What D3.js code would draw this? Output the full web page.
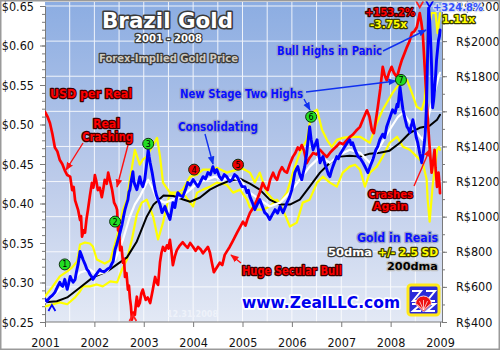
<!DOCTYPE html>
<html><head><meta charset="utf-8">
<script src="https://cdn.jsdelivr.net/npm/d3@7"></script>
<style>body{margin:0;background:#fff}svg{display:block}</style>
</head><body>
<svg id="c" width="500" height="350"></svg>
<script>
// ---------- data ----------
const years = [2001,2002,2003,2004,2005,2006,2007,2008,2009];
const usdTicks = [0.25,0.30,0.35,0.40,0.45,0.50,0.55,0.60,0.65];
const reaisTicks = [400,600,800,1000,1200,1400,1600,1800,2000,2200];

// USD per Real (left axis)
const usdPerReal = [[2001.00,0.516],[2001.05,0.510],[2001.10,0.502],[2001.15,0.488],[2001.20,0.471],[2001.25,0.466],[2001.30,0.455],[2001.35,0.450],[2001.40,0.442],[2001.45,0.436],[2001.51,0.434],[2001.55,0.417],[2001.58,0.421],[2001.61,0.404],[2001.67,0.392],[2001.71,0.379],[2001.73,0.384],[2001.75,0.358],[2001.78,0.366],[2001.81,0.363],[2001.84,0.380],[2001.87,0.392],[2001.91,0.410],[2001.95,0.426],[2001.98,0.420],[2002.01,0.436],[2002.04,0.428],[2002.07,0.417],[2002.11,0.420],[2002.15,0.408],[2002.18,0.418],[2002.21,0.430],[2002.25,0.425],[2002.28,0.439],[2002.32,0.428],[2002.36,0.417],[2002.40,0.401],[2002.44,0.396],[2002.46,0.392],[2002.48,0.366],[2002.50,0.372],[2002.52,0.341],[2002.55,0.345],[2002.58,0.325],[2002.60,0.330],[2002.62,0.307],[2002.65,0.312],[2002.68,0.291],[2002.70,0.296],[2002.72,0.280],[2002.74,0.270],[2002.76,0.253],[2002.79,0.262],[2002.82,0.259],[2002.84,0.272],[2002.86,0.282],[2002.89,0.270],[2002.92,0.274],[2002.95,0.286],[2002.98,0.291],[2003.01,0.284],[2003.04,0.278],[2003.08,0.281],[2003.13,0.274],[2003.18,0.290],[2003.23,0.307],[2003.26,0.300],[2003.29,0.297],[2003.33,0.326],[2003.36,0.338],[2003.39,0.345],[2003.43,0.340],[2003.47,0.347],[2003.50,0.343],[2003.53,0.354],[2003.56,0.340],[2003.59,0.322],[2003.63,0.333],[2003.67,0.341],[2003.72,0.346],[2003.79,0.351],[2003.84,0.347],[2003.89,0.344],[2003.94,0.350],[2004.00,0.345],[2004.05,0.340],[2004.10,0.345],[2004.15,0.342],[2004.20,0.337],[2004.25,0.341],[2004.30,0.345],[2004.34,0.338],[2004.38,0.325],[2004.42,0.313],[2004.47,0.318],[2004.54,0.325],[2004.59,0.322],[2004.64,0.335],[2004.69,0.340],[2004.74,0.345],[2004.80,0.352],[2004.89,0.363],[2004.95,0.370],[2005.01,0.377],[2005.06,0.372],[2005.10,0.380],[2005.15,0.388],[2005.22,0.395],[2005.29,0.404],[2005.35,0.414],[2005.41,0.426],[2005.46,0.420],[2005.51,0.417],[2005.56,0.430],[2005.62,0.439],[2005.66,0.433],[2005.70,0.430],[2005.75,0.440],[2005.80,0.446],[2005.85,0.441],[2005.90,0.439],[2005.96,0.450],[2006.02,0.459],[2006.07,0.464],[2006.12,0.471],[2006.16,0.468],[2006.20,0.474],[2006.25,0.466],[2006.30,0.451],[2006.36,0.458],[2006.43,0.464],[2006.50,0.462],[2006.57,0.468],[2006.64,0.463],[2006.71,0.459],[2006.77,0.464],[2006.83,0.468],[2006.90,0.472],[2006.97,0.477],[2007.04,0.475],[2007.11,0.480],[2007.17,0.484],[2007.23,0.487],[2007.30,0.492],[2007.38,0.497],[2007.45,0.508],[2007.52,0.518],[2007.57,0.510],[2007.62,0.493],[2007.66,0.489],[2007.70,0.505],[2007.74,0.522],[2007.79,0.545],[2007.84,0.573],[2007.88,0.562],[2007.92,0.556],[2007.97,0.566],[2008.02,0.573],[2008.07,0.565],[2008.13,0.560],[2008.18,0.572],[2008.23,0.582],[2008.28,0.590],[2008.33,0.598],[2008.38,0.605],[2008.43,0.616],[2008.48,0.618],[2008.53,0.623],[2008.56,0.632],[2008.59,0.641],[2008.62,0.630],[2008.65,0.616],[2008.67,0.595],[2008.69,0.573],[2008.72,0.540],[2008.75,0.509],[2008.78,0.480],[2008.81,0.455],[2008.83,0.439],[2008.86,0.452],[2008.89,0.468],[2008.91,0.445],[2008.94,0.421],[2008.97,0.439],[2008.99,0.425],[2009.00,0.413]];

// Gold price in Reais (right axis)
const goldReais = [[2001.00,529],[2001.04,518],[2001.07,530],[2001.10,540],[2001.15,552],[2001.20,569],[2001.25,598],[2001.30,626],[2001.33,610],[2001.36,603],[2001.40,643],[2001.45,586],[2001.48,620],[2001.51,660],[2001.54,640],[2001.57,626],[2001.61,643],[2001.64,690],[2001.67,728],[2001.71,802],[2001.74,780],[2001.77,756],[2001.81,730],[2001.85,699],[2001.88,690],[2001.91,671],[2001.94,660],[2001.97,643],[2002.01,660],[2002.06,680],[2002.11,699],[2002.14,690],[2002.17,688],[2002.21,688],[2002.26,700],[2002.32,711],[2002.35,730],[2002.38,745],[2002.42,813],[2002.45,840],[2002.48,870],[2002.52,910],[2002.56,955],[2002.59,1000],[2002.62,1040],[2002.65,1070],[2002.68,1097],[2002.70,1140],[2002.72,1154],[2002.75,1210],[2002.78,1256],[2002.80,1200],[2002.82,1182],[2002.86,1154],[2002.89,1190],[2002.92,1228],[2002.95,1190],[2002.98,1171],[2003.02,1211],[2003.05,1280],[2003.09,1381],[2003.11,1340],[2003.13,1307],[2003.17,1251],[2003.20,1200],[2003.23,1154],[2003.26,1120],[2003.29,1097],[2003.33,1069],[2003.37,1023],[2003.40,1040],[2003.43,1058],[2003.46,1030],[2003.49,1012],[2003.53,984],[2003.56,1030],[2003.59,1080],[2003.63,1052],[2003.66,1100],[2003.69,1137],[2003.74,1120],[2003.79,1114],[2003.84,1150],[2003.89,1194],[2003.94,1180],[2004.00,1211],[2004.05,1190],[2004.10,1171],[2004.15,1200],[2004.20,1228],[2004.25,1215],[2004.30,1251],[2004.35,1240],[2004.40,1285],[2004.44,1250],[2004.48,1268],[2004.53,1230],[2004.58,1211],[2004.63,1240],[2004.68,1228],[2004.74,1200],[2004.79,1211],[2004.84,1240],[2004.89,1228],[2004.94,1200],[2004.99,1171],[2005.05,1171],[2005.09,1137],[2005.12,1150],[2005.15,1114],[2005.20,1080],[2005.25,1040],[2005.30,1070],[2005.35,1097],[2005.40,1060],[2005.45,1023],[2005.50,1010],[2005.55,984],[2005.60,1010],[2005.66,1040],[2005.71,1020],[2005.76,1058],[2005.82,1023],[2005.86,1050],[2005.90,1080],[2005.95,1110],[2006.00,1154],[2006.03,1200],[2006.06,1251],[2006.09,1270],[2006.12,1285],[2006.16,1240],[2006.20,1211],[2006.23,1250],[2006.26,1285],[2006.30,1360],[2006.33,1440],[2006.36,1512],[2006.39,1440],[2006.43,1381],[2006.47,1410],[2006.51,1438],[2006.54,1370],[2006.57,1307],[2006.60,1330],[2006.63,1342],[2006.67,1300],[2006.71,1268],[2006.74,1240],[2006.77,1228],[2006.80,1260],[2006.83,1285],[2006.87,1315],[2006.91,1342],[2006.94,1330],[2006.97,1353],[2007.02,1375],[2007.07,1398],[2007.12,1420],[2007.17,1438],[2007.20,1410],[2007.23,1421],[2007.28,1380],[2007.34,1342],[2007.39,1330],[2007.44,1307],[2007.49,1280],[2007.54,1251],[2007.59,1290],[2007.64,1325],[2007.70,1380],[2007.74,1400],[2007.78,1438],[2007.84,1470],[2007.88,1450],[2007.92,1512],[2007.98,1560],[2008.04,1609],[2008.09,1590],[2008.13,1640],[2008.15,1626],[2008.19,1739],[2008.22,1670],[2008.25,1609],[2008.29,1560],[2008.33,1512],[2008.36,1500],[2008.39,1478],[2008.42,1520],[2008.45,1552],[2008.49,1500],[2008.52,1450],[2008.55,1421],[2008.59,1360],[2008.63,1307],[2008.66,1360],[2008.69,1438],[2008.71,1520],[2008.73,1665],[2008.75,1950],[2008.77,2188],[2008.79,2120],[2008.81,2006],[2008.83,1853],[2008.85,1620],[2008.87,1660],[2008.89,1722],[2008.91,1800],[2008.93,1893],[2008.95,1950],[2008.97,2006],[2008.99,2030],[2009.00,2063]];

// 50-day moving average
const dma50 = [[2001.00,512],[2001.15,545],[2001.30,586],[2001.51,626],[2001.71,682],[2001.91,699],[2002.05,671],[2002.26,688],[2002.42,756],[2002.58,870],[2002.72,1001],[2002.82,1070],[2002.92,1114],[2003.02,1170],[2003.09,1211],[2003.18,1160],[2003.27,1097],[2003.43,1080],[2003.59,1097],[2003.77,1114],[2003.94,1154],[2004.10,1194],[2004.28,1211],[2004.44,1228],[2004.60,1211],[2004.79,1222],[2004.95,1211],[2005.15,1137],[2005.35,1097],[2005.55,1058],[2005.76,1080],[2005.96,1137],[2006.16,1211],[2006.36,1285],[2006.57,1342],[2006.77,1307],[2006.97,1353],[2007.17,1381],[2007.38,1364],[2007.58,1307],[2007.78,1398],[2007.98,1495],[2008.15,1569],[2008.25,1592],[2008.39,1535],[2008.53,1478],[2008.65,1438],[2008.75,1552],[2008.85,1665],[2008.97,1796],[2009.00,1819]];

// 200-day moving average
const dma200 = [[2001.00,512],[2001.24,518],[2001.45,540],[2001.71,597],[2001.97,654],[2002.26,688],[2002.46,728],[2002.66,768],[2002.86,859],[2003.06,1000],[2003.20,1070],[2003.40,1120],[2003.60,1118],[2003.80,1098],[2003.94,1085],[2004.14,1109],[2004.34,1154],[2004.54,1182],[2004.74,1205],[2004.95,1216],[2005.15,1188],[2005.35,1154],[2005.55,1097],[2005.76,1069],[2005.96,1069],[2006.16,1097],[2006.36,1171],[2006.57,1251],[2006.77,1307],[2006.97,1342],[2007.17,1347],[2007.38,1342],[2007.58,1359],[2007.78,1364],[2007.98,1376],[2008.19,1421],[2008.39,1478],[2008.59,1506],[2008.79,1518],[2008.94,1552],[2009.00,1580]];

// +2.5 SD band
const bandUpper = [[2001.00,546],[2001.15,600],[2001.30,660],[2001.45,688],[2001.55,711],[2001.65,745],[2001.71,842],[2001.81,853],[2001.91,847],[2001.97,830],[2002.05,756],[2002.21,733],[2002.32,750],[2002.46,887],[2002.58,1040],[2002.66,1097],[2002.72,1211],[2002.82,1381],[2002.92,1296],[2002.98,1325],[2003.06,1342],[2003.19,1410],[2003.27,1449],[2003.33,1342],[2003.39,1194],[2003.53,1137],[2003.67,1137],[2003.79,1154],[2003.94,1228],[2004.08,1239],[2004.20,1268],[2004.34,1268],[2004.48,1279],[2004.68,1251],[2004.89,1268],[2005.01,1273],[2005.15,1251],[2005.25,1194],[2005.35,1251],[2005.49,1137],[2005.62,1097],[2005.76,1080],[2005.90,1137],[2006.02,1251],[2006.16,1364],[2006.30,1438],[2006.40,1592],[2006.51,1609],[2006.61,1495],[2006.71,1438],[2006.81,1398],[2006.91,1438],[2007.03,1449],[2007.17,1455],[2007.38,1455],[2007.58,1421],[2007.72,1535],[2007.84,1609],[2008.04,1705],[2008.19,1762],[2008.33,1779],[2008.43,1705],[2008.53,1626],[2008.63,1609],[2008.69,1665],[2008.75,2046],[2008.83,2160],[2008.91,2160],[2008.95,2046],[2009.00,2160]];

// -2.5 SD band
const bandLower = [[2001.00,489],[2001.30,512],[2001.45,501],[2001.61,540],[2001.71,575],[2001.77,603],[2001.91,603],[2002.05,614],[2002.17,603],[2002.32,631],[2002.46,626],[2002.56,699],[2002.66,756],[2002.76,870],[2002.86,1012],[2002.96,1080],[2003.06,1097],[2003.19,1001],[2003.29,870],[2003.39,966],[2003.53,1137],[2003.67,1114],[2003.79,1137],[2003.94,1080],[2004.00,1058],[2004.08,1137],[2004.20,1154],[2004.34,1171],[2004.48,1194],[2004.68,1182],[2004.81,1137],[2004.95,1154],[2005.09,1097],[2005.15,1052],[2005.29,1040],[2005.41,1040],[2005.55,1058],[2005.70,1097],[2005.82,1040],[2005.96,944],[2006.10,966],[2006.22,1080],[2006.36,1097],[2006.51,1194],[2006.63,1228],[2006.77,1194],[2006.91,1171],[2007.03,1251],[2007.17,1285],[2007.28,1296],[2007.38,1268],[2007.48,1171],[2007.58,1251],[2007.72,1285],[2007.84,1342],[2007.98,1421],[2008.13,1455],[2008.25,1398],[2008.39,1381],[2008.53,1342],[2008.65,1307],[2008.73,1211],[2008.75,1097],[2008.79,972],[2008.85,1171],[2008.94,1381],[2008.98,1398],[2009.00,1381]];

// numbered event markers
const markerTimes = [2001.40,2002.42,2003.09,2004.02,2004.91,2006.39,2008.21];
const markerVals  = [728,972,1415,1268,1296,1569,1779];
const markerLabels = ["1","2","3","4","5","6","7"];
const markerKinds  = ["g","g","g","r","r","g","g"];

// ---------- chart ----------
const svg = d3.select("#c");
const W = 500, H = 350;
const x = d3.scaleLinear().domain([2001,2009]).range([45,440]);
const yL = d3.scaleLinear().domain([0.25,0.65]).range([322,6]);
const yR = d3.scaleLinear().domain([400,2200]).range([322,6]);

const defs = svg.append("defs");
const grad = defs.append("linearGradient").attr("id","bg").attr("x1",0).attr("y1",0).attr("x2",0).attr("y2",1);
grad.append("stop").attr("offset","0%").attr("stop-color","#8cade2");
grad.append("stop").attr("offset","55%").attr("stop-color","#bccbea");
grad.append("stop").attr("offset","100%").attr("stop-color","#e3e9f5");
defs.append("clipPath").attr("id","clip").append("rect").attr("x",45).attr("y",2).attr("width",397).attr("height",320);

svg.append("rect").attr("x",0).attr("y",0).attr("width",W).attr("height",H).attr("fill","#fff");
svg.append("rect").attr("x",45).attr("y",2).attr("width",397).attr("height",320).attr("fill","url(#bg)");

// grid
const grid = svg.append("g").attr("stroke","#fff").attr("stroke-width",1).attr("opacity",0.85);
d3.range(2001.5,2009,0.5).forEach(t=>{
  grid.append("line").attr("x1",x(t)).attr("x2",x(t)).attr("y1",2).attr("y2",322);
});
reaisTicks.slice(1).forEach(v=>{
  grid.append("line").attr("x1",45).attr("x2",442).attr("y1",yR(v)).attr("y2",yR(v));
});

// axes
const fontAx = "'DejaVu Sans Condensed','DejaVu Sans',sans-serif";
function styleAxis(g){
  g.select(".domain").attr("stroke","#7a7a7a");
  g.selectAll(".tick line").attr("stroke","#7a7a7a");
  g.selectAll("text").attr("font-family",fontAx).attr("font-size","12.5px").attr("fill","#111").style("font-stretch","condensed");
}
const gL = svg.append("g").attr("transform","translate(45,0)")
  .call(d3.axisLeft(yL).tickValues(usdTicks).tickSize(5).tickPadding(6).tickFormat(d=>"$"+d.toFixed(2)));
styleAxis(gL);
svg.append("g").attr("transform","translate(45,0)")
  .call(d3.axisLeft(yL).tickValues(d3.range(0,41).map(i=>0.25+i*0.01)).tickSize(3).tickFormat(""))
  .call(g=>{g.select(".domain").remove(); g.selectAll("line").attr("stroke","#7a7a7a");});
const gR = svg.append("g").attr("transform","translate(442,0)")
  .call(d3.axisRight(yR).tickValues(reaisTicks).tickSize(5).tickPadding(9).tickFormat(d=>"R$"+d));
styleAxis(gR);
svg.append("g").attr("transform","translate(442,0)")
  .call(d3.axisRight(yR).tickValues(d3.range(0,19).map(i=>400+i*100)).tickSize(3).tickFormat(""))
  .call(g=>{g.select(".domain").remove(); g.selectAll("line").attr("stroke","#7a7a7a");});
const gB = svg.append("g").attr("transform","translate(0,322)")
  .call(d3.axisBottom(x).tickValues(years).tickSize(5).tickPadding(11).tickFormat(d3.format("d")));
styleAxis(gB);
gB.select(".domain").attr("d","M45,0H442");

// series
const plot = svg.append("g").attr("clip-path","url(#clip)");
const lineR = d3.line().x(d=>x(d[0])).y(d=>yR(d[1])).curve(d3.curveLinear);
const lineL = d3.line().x(d=>x(d[0])).y(d=>yL(d[1])).curve(d3.curveLinear);
function path(data, gen, color, w){
  plot.append("path").datum(data).attr("d",gen).attr("fill","none").attr("stroke",color)
    .attr("stroke-width",w).attr("stroke-linejoin","round").attr("stroke-linecap","round");
}
path(bandLower, lineR, "#ffff00", 2.2);
path(bandUpper, lineR, "#ffff00", 2.2);
path(dma200, lineR, "#000000", 2);
path(dma50, lineR, "#ffffff", 2.2);
path(usdPerReal, lineL, "#ff0000", 2.7);
path(goldReais, lineR, "#0000ff", 2.9);

// chevrons (extremes)
function chevron(t, yv, scale, color, up){
  const cx = x(t), cy = scale(yv), s = up ? -1 : 1;
  svg.append("path").attr("d",`M${cx-3.5},${cy-3*s}L${cx},${cy+3*s}L${cx+3.5},${cy-3*s}`)
    .attr("fill","none").attr("stroke",color).attr("stroke-width",1.8);
}
chevron(2008.59, 0.652, yL, "#ff2020", false);
chevron(2008.79, 2212, yR, "#0000ff", false);
chevron(2001.14, 480, yR, "#0000ff", true);
chevron(2002.78, 0.255, yL, "#ff2020", true);

// arrows
defs.append("marker").attr("id","ahR").attr("viewBox","0 0 10 10").attr("refX",9).attr("refY",5)
  .attr("markerWidth",6).attr("markerHeight",6).attr("orient","auto")
  .append("path").attr("d","M0,1L10,5L0,9z").attr("fill","#ff1010");
defs.append("marker").attr("id","ahB").attr("viewBox","0 0 10 10").attr("refX",9).attr("refY",5)
  .attr("markerWidth",6).attr("markerHeight",6).attr("orient","auto")
  .append("path").attr("d","M0,1L10,5L0,9z").attr("fill","#1030f0");
function arrow(x1,y1,x2,y2,kind){
  svg.append("line").attr("x1",x1).attr("y1",y1).attr("x2",x2).attr("y2",y2)
    .attr("stroke", kind==="r" ? "#ff1010" : "#1030f0").attr("stroke-width",1.4)
    .attr("marker-end", kind==="r" ? "url(#ahR)" : "url(#ahB)");
}
arrow(83,143,66,170,"r");
arrow(128,145,117,187,"r");
arrow(414,186,430,149,"r");
arrow(241,263,231,255,"r");
arrow(205,134,213,164,"b");
arrow(306,92,396,81,"b");
arrow(304,99,310,110,"b");
arrow(383,51,426,30,"b");

// markers
markerTimes.forEach((t,i)=>{
  const g = svg.append("g").attr("transform",`translate(${x(t)},${yR(markerVals[i])})`);
  g.append("circle").attr("r",5.5).attr("fill", markerKinds[i]==="g" ? "#22dd22" : "#ee0000")
    .attr("stroke","#103010").attr("stroke-width",1);
  g.append("text").attr("y",3).attr("text-anchor","middle").attr("font-family","'DejaVu Sans',sans-serif")
    .attr("font-size","8px").attr("fill","#000").text(markerLabels[i]);
});

// labels
function label(txt, cx, y, w, fs, fill, stroke, sw){
  const t = svg.append("text").attr("x",cx).attr("y",y).attr("text-anchor","middle")
    .attr("font-family","'DejaVu Sans',Verdana,sans-serif").attr("font-weight","bold")
    .attr("font-size",fs+"px").attr("fill",fill)
    .attr("textLength",w).attr("lengthAdjust","spacingAndGlyphs").text(txt);
  if (stroke) t.attr("stroke",stroke).attr("stroke-width",sw).attr("stroke-linejoin","round").attr("paint-order","stroke");
  return t;
}
label("Brazil Gold",167.5,28,131,21,"#ffffff","#3a3a3a",3.2);
label("2001 - 2008",168.5,41.5,67,10.5,"#ffffff","#3a3a3a",2.6);
label("Forex-Implied Gold Price",168.5,61.5,139,10.5,"#cfcac0","#3a3a3a",2.6);
label("USD per Real",91,97.5,82,12.5,"#ff0000","#3a0000",2.6);
label("Real",106.5,128,27,11.5,"#ff0000","#3a0000",2.6);
label("Crashing",107.5,140.5,51,11.5,"#ff0000","#3a0000",2.6);
label("New Stage Two Highs",241.5,97.5,123,11.5,"#0a10ff","#9aa4c4",2.6);
label("Consolidating",218,130.5,80,11.5,"#0a10ff","#9aa4c4",2.6);
label("Bull Highs in Panic",329.5,54.5,105,11.5,"#0a10ff","#9aa4c4",2.6);
label("+153.2%",390,16,50,10.5,"#ff0000","#3a0000",2.4);
label("-3.75x",388.5,28,37,10.5,"#ffff00","#3a3a00",2.4);
label("+324.8%",458,11,50,10.5,"#3050ff","#d8def0",2.4);
label("1.11x",458.5,23,33,10.5,"#ffff00","#3a3a00",2.4);
label("Crashes",390.5,197.5,45,10.5,"#ff0000","#3a0000",2.4);
label("Again",390.5,209.5,35,10.5,"#ff0000","#3a0000",2.4);
label("Huge Secular Bull",292,275,100,11.5,"#ff0000","#3a0000",2.6);
label("Gold in Reais",397.5,242,81,11.5,"#0a10ff","#9aa4c4",2.6);
label("50dma",350,256,44,11,"#ffffff","#3a3a3a",2.6);
label("+/- 2.5 SD",408,256,60,11,"#ffff00","#3a3a00",2.6);
label("200dma",412.5,269.5,51,11,"#000000","#c0c0c0",2.6);
label("www.ZealLLC.com",321,308,158,16,"#0000ee","#ffffff",3.4);
label("12.31.2008",192.5,317,51,9.5,"#eef2fa",null,0);

// logo
const lg = svg.append("g").attr("transform","translate(408,285)");
lg.append("rect").attr("x",0).attr("y",0).attr("width",31).attr("height",30).attr("rx",3)
  .attr("fill","#2a2ad8").attr("stroke","#ffe818").attr("stroke-width",3);
lg.append("path").attr("d","M4,6H13L5,16H13M18,6H27L19,16H27M4,19H13L5,26H13M18,19H27L19,26H27")
  .attr("fill","none").attr("stroke","#ffffff").attr("stroke-width",2);
lg.append("path").attr("d","M7.5,19A8,8 0 0 1 23.5,19L15.5,27Z").attr("fill","#ee1010").attr("stroke","#fff").attr("stroke-width",0.8);
[-60,-30,0,30,60].forEach(a=>{
  const r = a*Math.PI/180;
  lg.append("line").attr("x1",15.5).attr("y1",25).attr("x2",15.5+8*Math.sin(r)).attr("y2",25-8*Math.cos(r)-2)
    .attr("stroke","#fff").attr("stroke-width",0.7);
});

// outer border
svg.append("rect").attr("x",0.5).attr("y",0.5).attr("width",W-1).attr("height",H-1)
  .attr("fill","none").attr("stroke","#9a9a9a").attr("stroke-width",2);
</script>
</body></html>
